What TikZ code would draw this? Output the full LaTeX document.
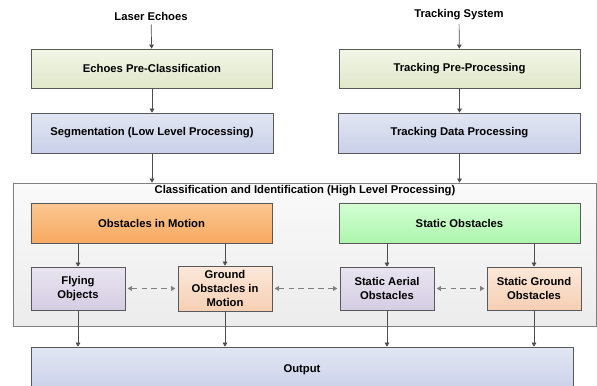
\documentclass[tikz,border=0pt]{standalone}
\usepackage{fontspec}
\setmainfont{Liberation Sans}
\usepackage{xcolor}
\usetikzlibrary{arrows.meta, positioning, calc}

\definecolor{edgegray}{HTML}{595959}
\definecolor{arrowgray}{HTML}{4D4D4D}
\definecolor{dashgray}{HTML}{808080}
\definecolor{preTop}{HTML}{F3F6E8}
\definecolor{preBot}{HTML}{DFE7C9}
\definecolor{procTop}{HTML}{E2E6F4}
\definecolor{procBot}{HTML}{C9D0E8}
\definecolor{motionTop}{HTML}{FCC892}
\definecolor{motionBot}{HTML}{F7A961}
\definecolor{staticTop}{HTML}{D4FFD4}
\definecolor{staticBot}{HTML}{ADF5AD}
\definecolor{aerialTop}{HTML}{E9E4F0}
\definecolor{aerialBot}{HTML}{D5CDE3}
\definecolor{groundTop}{HTML}{FCE8DA}
\definecolor{groundBot}{HTML}{F5CFB3}
\definecolor{hlTop}{HTML}{FAFAFA}
\definecolor{hlBot}{HTML}{ECECEC}

\begin{document}
\begin{tikzpicture}[x=0.03cm, y=-0.03cm,
    lbl/.style={font=\fontsize{9.6}{11.4}\selectfont\bfseries},
    stage/.style={rectangle, draw=edgegray, line width=0.6pt, font=\fontsize{9.6}{11.8}\selectfont\bfseries, align=center, inner sep=1pt},
    prebox/.style={stage, top color=preTop, bottom color=preBot, minimum width=7.23cm, minimum height=1.17cm},
    procbox/.style={stage, top color=procTop, bottom color=procBot, minimum width=7.26cm, minimum height=1.2cm},
    smallbox/.style={stage, minimum width=2.82cm, minimum height=1.29cm},
    rel/.style={-{Triangle[length=3.5pt,width=4pt]}, draw=arrowgray, line width=0.6pt},
    link/.style={{Triangle[length=3.5pt,width=4pt]}-{Triangle[length=3.5pt,width=4pt]}, draw=dashgray, line width=0.8pt, dash pattern=on 5pt off 3.5pt, shorten >=2pt, shorten <=2pt}
]
\useasboundingbox (0,0) rectangle (597,385);

% high level container
\node[rectangle, draw=dashgray, line width=0.6pt, top color=hlTop, bottom color=hlBot, minimum width=17.49cm, minimum height=4.29cm] (hl) at (304.5,254.5) {};
\node[lbl] (hltitle) at (305,190.5) {Classification and Identification (High Level Processing)};

% inputs
\node[lbl] (laser) at (151,16) {Laser Echoes};
\node[lbl] (track) at (459,15) {Tracking System};

\node[prebox] (epre) at (152,68.5) {Echoes Pre-Classification};
\node[procbox] (seg) at (152,133) {Segmentation (Low Level Processing)};
\node[prebox] (tpre) at (459.5,68.5) {Tracking Pre-Processing};
\node[procbox] (tdata) at (459.5,133) {Tracking Data Processing};

% obstacle classes
\node[stage, top color=motionTop, bottom color=motionBot, minimum width=7.23cm, minimum height=1.2cm] (motion) at (151.5,223) {Obstacles in Motion};
\node[stage, top color=staticTop, bottom color=staticBot, minimum width=7.23cm, minimum height=1.2cm] (static) at (459.5,223) {Static Obstacles};

\node[smallbox, top color=aerialTop, bottom color=aerialBot] (flying) at (78,288.5) {Flying\\Objects};
\node[smallbox, top color=groundTop, bottom color=groundBot, minimum height=1.35cm] (ground) at (225,288.5) {Ground\\Obstacles in\\Motion};
\node[smallbox, top color=aerialTop, bottom color=aerialBot] (aerial) at (387,288.5) {Static Aerial\\Obstacles};
\node[smallbox, top color=groundTop, bottom color=groundBot] (sground) at (534,288.5) {Static Ground\\Obstacles};

\node[stage, top color=procTop, bottom color=procBot, minimum width=16.26cm, minimum height=1.38cm] (out) at (302,370) {Output};

% flow
\draw[rel] (laser) -- (epre);
\draw[rel] (epre) -- (seg);
\draw[rel] (seg) -- (seg |- hl.north);
\draw[rel] (track) -- (tpre);
\draw[rel] (tpre) -- (tdata);
\draw[rel] (tdata) -- (tdata |- hl.north);

\draw[rel] (motion.south -| flying) -- (flying);
\draw[rel] (motion.south -| ground) -- (ground);
\draw[rel] (static.south -| aerial) -- (aerial);
\draw[rel] (static.south -| sground) -- (sground);

\draw[link] (flying) -- (ground);
\draw[link] (ground) -- (aerial);
\draw[link] (aerial) -- (sground);

\draw[rel] (flying) -- (flying |- out.north);
\draw[rel] (ground) -- (ground |- out.north);
\draw[rel] (aerial) -- (aerial |- out.north);
\draw[rel] (sground) -- (sground |- out.north);
\end{tikzpicture}
\end{document}
